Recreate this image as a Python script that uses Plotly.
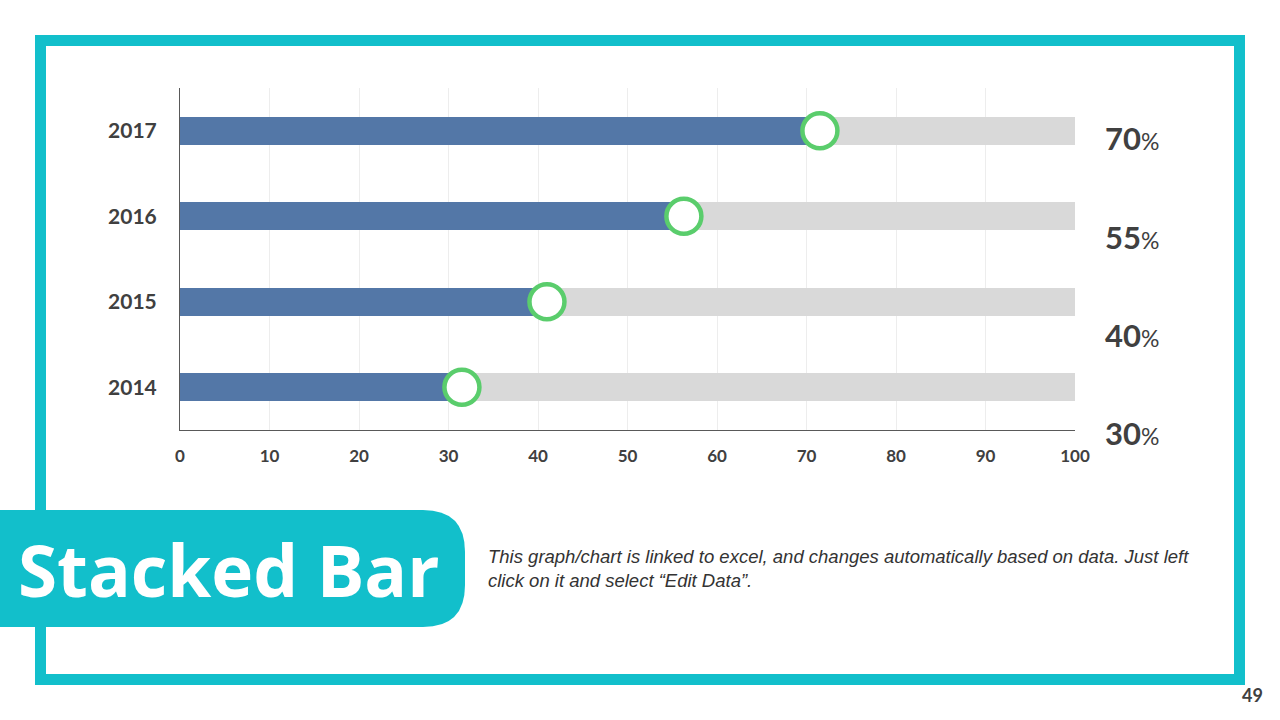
import plotly.graph_objects as go

years = ["2014", "2015", "2016", "2017"]
values = [30, 40, 55, 70]
marker_pos = [31.5, 41, 56.3, 71.5]
remainder = [100 - v for v in values]
pct_labels = ["30%", "40%", "55%", "70%"]
x_ticks = [0, 10, 20, 30, 40, 50, 60, 70, 80, 90, 100]

W, H = 1280, 720
L, R, T, B = 180, 1075, 88, 430

def px(x):
    return (x - L) / (R - L)

def py(y):
    return (B - y) / (B - T)

TEAL = "#12BFCB"
BLUE = "#5377A7"
GRAY = "#D9D9D9"
GREEN = "#5ACD6C"
TXT = "#404040"

fig = go.Figure()
fig.add_trace(go.Bar(y=years, x=values, orientation="h", marker=dict(color=BLUE, line=dict(width=0)),
                     width=0.33, hoverinfo="skip"))
fig.add_trace(go.Bar(y=years, x=remainder, orientation="h", marker=dict(color=GRAY, line=dict(width=0)),
                     width=0.33, hoverinfo="skip"))
fig.add_trace(go.Scatter(y=years, x=marker_pos, mode="markers",
                         marker=dict(size=35, color="white", line=dict(color=GREEN, width=4.5)),
                         hoverinfo="skip"))

shapes = [
    # outer frame
    dict(type="rect", xref="paper", yref="paper", x0=px(40.5), x1=px(1239.5), y0=py(40.5), y1=py(679.5),
         line=dict(color=TEAL, width=11), fillcolor="rgba(0,0,0,0)", layer="above"),
]
# rounded title box
x0b, x1b, y0b, y1b, r = -5, 465, 510, 627, 42
path = (f"M {px(x0b)},{py(y0b)} L {px(x1b - r)},{py(y0b)} "
        f"Q {px(x1b)},{py(y0b)} {px(x1b)},{py(y0b + r)} "
        f"L {px(x1b)},{py(y1b - r)} "
        f"Q {px(x1b)},{py(y1b)} {px(x1b - r)},{py(y1b)} "
        f"L {px(x0b)},{py(y1b)} Z")
shapes.append(dict(type="path", xref="paper", yref="paper", path=path, fillcolor=TEAL,
                   line=dict(width=0), layer="above"))

annotations = []
pct_y = [433, 335, 237, 138]
for lab, yy in zip(pct_labels, pct_y):
    num = lab.rstrip("%")
    annotations.append(dict(xref="paper", yref="paper", x=px(1103), y=py(yy), xanchor="left", yanchor="middle",
                            text=f"<b>{num}</b><span style='font-size:23px'>%</span>", showarrow=False,
                            font=dict(family="Lato", size=31, color=TXT)))
annotations.append(dict(xref="paper", yref="paper", x=px(16), y=py(569), xanchor="left", yanchor="middle",
                        text="<b>Stacked Bar</b>", showarrow=False,
                        font=dict(family="Open Sans", size=71, color="white")))
annotations.append(dict(xref="paper", yref="paper", x=px(486), y=py(568), xanchor="left", yanchor="middle",
                        align="left",
                        text="<i>This graph/chart is linked to excel, and changes automatically based on data. Just left<br>click on it and select \u201cEdit Data\u201d.</i>",
                        showarrow=False, font=dict(family="Liberation Sans", size=18.5, color="#333333")))
annotations.append(dict(xref="paper", yref="paper", x=px(1265), y=py(695), xanchor="right", yanchor="middle",
                        text="<b>49</b>", showarrow=False,
                        font=dict(family="Lato", size=18, color=TXT)))

fig.update_layout(
    width=W, height=H, autosize=False,
    margin=dict(l=L, r=W - R, t=T, b=H - B, pad=0),
    barmode="stack", bargap=0.67, showlegend=False,
    paper_bgcolor="white", plot_bgcolor="white",
    shapes=shapes, annotations=annotations,
    xaxis=dict(range=[0, 100], tickvals=x_ticks, showgrid=True, gridcolor="#EDEDED", gridwidth=1,
               showline=True, linecolor="#595959", linewidth=1, zeroline=False,
               ticks="", ticklabelstandoff=11,
               tickfont=dict(family="Lato", size=17, color=TXT, weight=700), fixedrange=True),
    yaxis=dict(categoryorder="array", categoryarray=years, showgrid=False,
               showline=True, linecolor="#595959", linewidth=1, zeroline=False,
               ticks="", ticklabelstandoff=18,
               tickfont=dict(family="Lato", size=21, color=TXT, weight=700), fixedrange=True),
)

fig.write_html("out.html", config={"displayModeBar": False})
